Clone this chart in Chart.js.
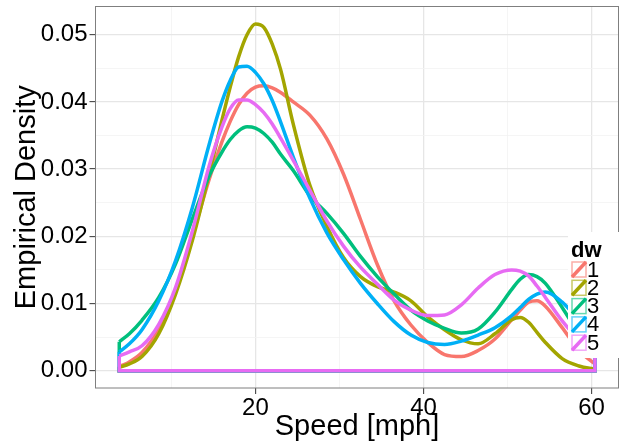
<!DOCTYPE html>
<html>
<head>
<meta charset="utf-8">
<script src="https://cdn.jsdelivr.net/npm/chart.js@4.4.1/dist/chart.umd.min.js"></script>
<style>
  html, body { margin: 0; padding: 0; background: #fff; }
  #wrap { width: 621px; height: 447px; }
</style>
</head>
<body>
<div id="wrap"><canvas id="densityChart" width="621" height="447"></canvas></div>
<script>
// Speed grid (mph) and density per dw group
const speeds = [3.8, 5, 6.5, 8.5, 10.5, 12.5, 14.5, 16, 17, 18, 19, 20, 21, 22, 23,
  24.5, 26.5, 28.5, 30.5, 32.5, 34.5, 36.5, 38.5, 40.5, 42.5, 44.5, 46.5, 48.5, 50.5,
  51.5, 52.5, 53.5, 54.5, 56.5, 58.5, 60.4];

const dw1 = [0.0006, 0.0013, 0.0027, 0.0062, 0.0119, 0.0200, 0.0285, 0.0340, 0.0371, 0.0396, 0.0413, 0.0422, 0.0424, 0.0421, 0.0414,
  0.0400, 0.0380, 0.0345, 0.0292, 0.0225, 0.0158, 0.0104, 0.0068, 0.0042, 0.0024, 0.0021, 0.0030, 0.0047, 0.0076,
  0.0090, 0.0102, 0.0104, 0.0096, 0.0064, 0.0030, 0.0010];
const dw2 = [0.0005, 0.0010, 0.0021, 0.0055, 0.0114, 0.0194, 0.0293, 0.0372, 0.0422, 0.0467, 0.0500, 0.0516, 0.0511, 0.0486, 0.0448,
  0.0367, 0.0275, 0.0215, 0.0168, 0.0140, 0.0125, 0.0117, 0.0104, 0.0080, 0.0061, 0.0046, 0.0040, 0.0055, 0.0076,
  0.0079, 0.0072, 0.0057, 0.0042, 0.0018, 0.0007, 0.0002];
const dw3 = [0.0043, 0.0055, 0.0075, 0.0109, 0.0159, 0.0226, 0.0290, 0.0325, 0.0344, 0.0357, 0.0363, 0.0361, 0.0353, 0.0340, 0.0322,
  0.0298, 0.0260, 0.0234, 0.0204, 0.0170, 0.0140, 0.0114, 0.0090, 0.0074, 0.0063, 0.0056, 0.0062, 0.0087, 0.0121,
  0.0136, 0.0143, 0.0140, 0.0130, 0.0094, 0.0055, 0.0030];
const dw4 = [0.0028, 0.0040, 0.0061, 0.0104, 0.0164, 0.0243, 0.0337, 0.0400, 0.0432, 0.0452, 0.0453, 0.0444, 0.0427, 0.0402, 0.0370,
  0.0318, 0.0256, 0.0205, 0.0165, 0.0130, 0.0100, 0.0073, 0.0053, 0.0042, 0.0039, 0.0044, 0.0053, 0.0064, 0.0082,
  0.0094, 0.0106, 0.0114, 0.0117, 0.0102, 0.0075, 0.0050];
const dw5 = [0.0022, 0.0028, 0.0037, 0.0069, 0.0124, 0.0208, 0.0305, 0.0362, 0.0390, 0.0403, 0.0403, 0.0396, 0.0384, 0.0367, 0.0346,
  0.0313, 0.0268, 0.0223, 0.0185, 0.0154, 0.0129, 0.0105, 0.0090, 0.0082, 0.0083, 0.0098, 0.0123, 0.0143, 0.0150,
  0.0148, 0.0141, 0.0126, 0.0109, 0.0074, 0.0045, 0.0020];

const groups = ["1", "2", "3", "4", "5"];
const xTickLabels = [20, 40, 60];
const yTickLabels = ["0.00", "0.01", "0.02", "0.03", "0.04", "0.05"];

const colors = ["#F8766D", "#A3A500", "#00BF7D", "#00B0F6", "#E76BF3"];
const seriesValues = [dw1, dw2, dw3, dw4, dw5];
const FONT = "'Liberation Sans', Arial, sans-serif";

// each density is a closed polygon: the smooth top plus the two ends and the baseline
const datasets = [];
seriesValues.forEach((vals, i) => {
  const last = speeds.length - 1;
  datasets.push({
    label: groups[i],
    data: speeds.map((s, k) => ({ x: s, y: vals[k] })),
    borderColor: colors[i],
    borderWidth: 3.5,
    pointRadius: 0,
    cubicInterpolationMode: "monotone",
    fill: false,
    order: 10 - 2 * i
  });
  datasets.push({
    label: groups[i] + " outline",
    data: [
      { x: speeds[0], y: vals[0] },
      { x: speeds[0], y: 0 },
      { x: speeds[last], y: 0 },
      { x: speeds[last], y: vals[last] }
    ],
    borderColor: colors[i],
    borderWidth: 3.5,
    pointRadius: 0,
    tension: 0,
    fill: false,
    order: 9 - 2 * i
  });
});

const isMajorX = v => v % 20 === 0;
const isMajorY = v => Math.round(v * 1000) % 10 === 0;

// grey frame round the panel
const panelFrame = {
  id: "panelFrame",
  beforeDatasetsDraw(chart) {
    const { ctx, chartArea: a } = chart;
    ctx.save();
    ctx.strokeStyle = "#7f7f7f";
    ctx.lineWidth = 1;
    ctx.strokeRect(a.left, a.top, a.right - a.left, a.bottom - a.top);
    ctx.restore();
  }
};

// ggplot-style "dw" legend sitting over the right edge of the panel
const dwLegend = {
  id: "dwLegend",
  afterDatasetsDraw(chart) {
    const { ctx } = chart;
    ctx.save();
    ctx.fillStyle = "#fff";
    ctx.fillRect(568, 232, 53, 126);
    ctx.fillStyle = "#000";
    ctx.font = "bold 22px " + FONT;
    ctx.textBaseline = "alphabetic";
    ctx.fillText("dw", 571, 257);
    ctx.font = "22px " + FONT;
    ctx.textBaseline = "middle";
    groups.forEach((g, i) => {
      const x = 572, y = 262 + i * 18.3, w = 14, h = 15;
      ctx.globalAlpha = 0.6;
      ctx.strokeStyle = colors[i];
      ctx.lineWidth = 1.5;
      ctx.strokeRect(x, y, w, h);
      ctx.globalAlpha = 1;
      ctx.lineWidth = 3.5;
      ctx.beginPath();
      ctx.moveTo(x, y + h);
      ctx.lineTo(x + w, y);
      ctx.stroke();
      ctx.fillStyle = "#000";
      ctx.fillText(g, 587, y + h / 2 + 1);
    });
    ctx.restore();
  }
};

new Chart(document.getElementById("densityChart"), {
  type: "line",
  data: { datasets },
  plugins: [panelFrame, dwLegend],
  options: {
    responsive: false,
    animation: false,
    layout: { padding: { top: 6.5, right: 2.5, left: 0, bottom: 0 } },
    plugins: { legend: { display: false }, tooltip: { enabled: false } },
    scales: {
      x: {
        type: "linear",
        min: 0.97,
        max: 63.2,
        afterFit: s => { s.height = 59; s.paddingLeft = 0; s.paddingRight = 0; },
        border: { display: false },
        grid: {
          color: c => isMajorX(c.tick.value) ? "#e6e6e6" : "#f3f3f3",
          lineWidth: c => isMajorX(c.tick.value) ? 1.3 : 0.8,
          tickColor: c => isMajorX(c.tick.value) ? "#333" : "rgba(0,0,0,0)",
          tickLength: 6,
          tickWidth: 1
        },
        ticks: {
          stepSize: 10,
          includeBounds: false,
          autoSkip: false,
          maxRotation: 0,
          padding: 0,
          color: "#000",
          font: { family: FONT, size: 24 },
          callback: v => xTickLabels.includes(v) ? String(v) : ""
        },
        title: {
          display: true,
          text: "Speed [mph]",
          color: "#000",
          font: { family: FONT, size: 29 },
          padding: { top: 0, bottom: 3 }
        }
      },
      y: {
        min: -0.00258,
        max: 0.0542,
        afterFit: s => { s.width = 95.5; s.paddingTop = 0; s.paddingBottom = 0; },
        border: { display: false },
        grid: {
          color: c => isMajorY(c.tick.value) ? "#e6e6e6" : "#f3f3f3",
          lineWidth: c => isMajorY(c.tick.value) ? 1.3 : 0.8,
          tickColor: c => isMajorY(c.tick.value) ? "#333" : "rgba(0,0,0,0)",
          tickLength: 6,
          tickWidth: 1
        },
        ticks: {
          stepSize: 0.005,
          includeBounds: false,
          autoSkip: false,
          padding: 2,
          color: "#000",
          font: { family: FONT, size: 24 },
          callback: v => {
            const k = Math.round(v * 1000);
            return k % 10 === 0 ? yTickLabels[k / 10] || "" : "";
          }
        },
        title: {
          display: true,
          text: "Empirical Density",
          color: "#000",
          font: { family: FONT, size: 29 },
          padding: { top: 10, bottom: 0 }
        }
      }
    }
  }
});
</script>
</body>
</html>
